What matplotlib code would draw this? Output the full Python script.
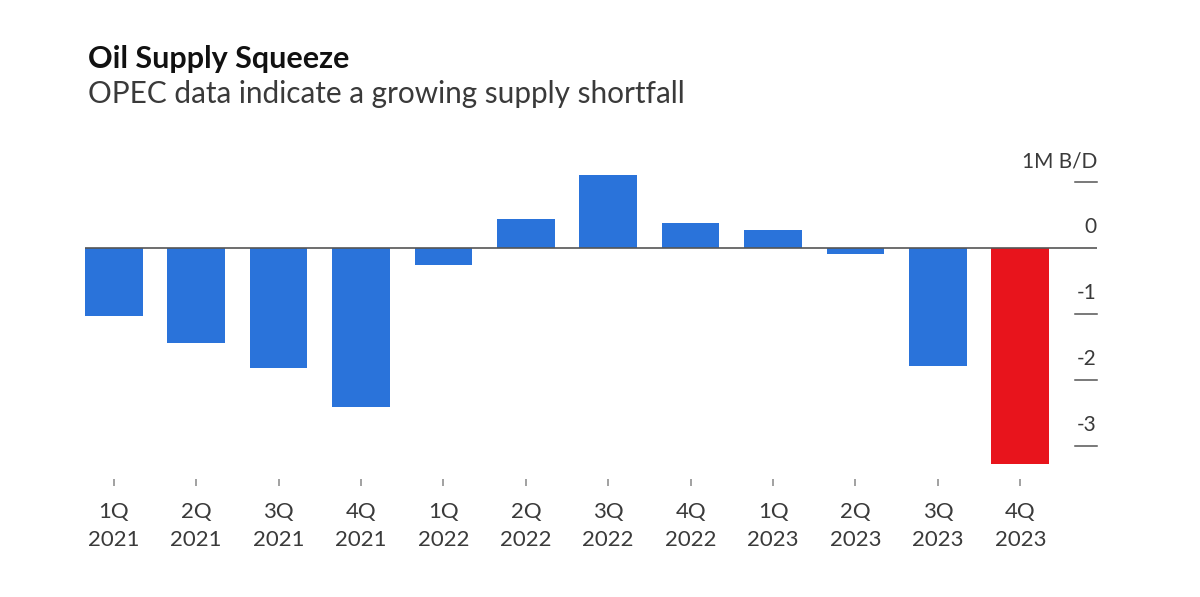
import matplotlib.pyplot as plt

quarters = ['1Q', '2Q', '3Q', '4Q', '1Q', '2Q', '3Q', '4Q', '1Q', '2Q', '3Q', '4Q']
years = ['2021', '2021', '2021', '2021', '2022', '2022', '2022', '2022',
         '2023', '2023', '2023', '2023']
balance = [-1.02, -1.44, -1.82, -2.41, -0.25, 0.44, 1.11, 0.38, 0.27, -0.08, -1.79, -3.27]
highlight = [False] * 11 + [True]

y_ticks = [1, 0, -1, -2, -3]
y_labels = ['1M B/D', '0', '-1', '-2', '-3']

blue = '#2A73DA'
red = '#E8141C'
text_col = '#3a3a3a'
line_col = '#555555'

plt.rcParams['font.family'] = ['Lato', 'DejaVu Sans']

fig = plt.figure(figsize=(12, 5.97), dpi=100)
ax = fig.add_axes([0.0708, 0.1971, 0.8433, 0.5528])

x = list(range(len(balance)))
colors = [red if h else blue for h in highlight]
ax.bar(x, balance, width=0.7, color=colors, zorder=2)
ax.axhline(0, color=line_col, lw=1.2, zorder=3)

ax.set_xlim(-0.35, 11.93)
ax.set_ylim(-3.5, 1.5)

for s in ax.spines.values():
    s.set_visible(False)

ax.set_xticks(x)
ax.set_xticklabels([q + '\n' + yr for q, yr in zip(quarters, years)],
                   linespacing=1.5)
ax.tick_params(axis='x', length=5, width=1.1, color='#888888', pad=11,
               labelsize=16, labelcolor=text_col)
ax.set_yticks([])

# y labels sit above short dashes on the right edge
trans = ax.get_yaxis_transform()
for val, lab in zip(y_ticks, y_labels):
    if val != 0:
        ax.plot([0.978, 1.0], [val, val], color=line_col, lw=1.1,
                transform=trans, clip_on=False)
    ax.annotate(lab, xy=(1.0, val), xycoords=trans, xytext=(0, 21),
                textcoords='offset pixels', ha='right', va='center',
                fontsize=15, color=text_col)

fig.text(0.073, 1 - 68.3 / 597, 'Oil Supply Squeeze', fontsize=22,
         fontweight='bold', color='#111111', va='baseline', ha='left')
fig.text(0.073, 1 - 102.5 / 597, 'OPEC data indicate a growing supply shortfall',
         fontsize=21.4, color=text_col, va='baseline', ha='left')

fig.savefig('out.png', dpi=100, facecolor='white')
